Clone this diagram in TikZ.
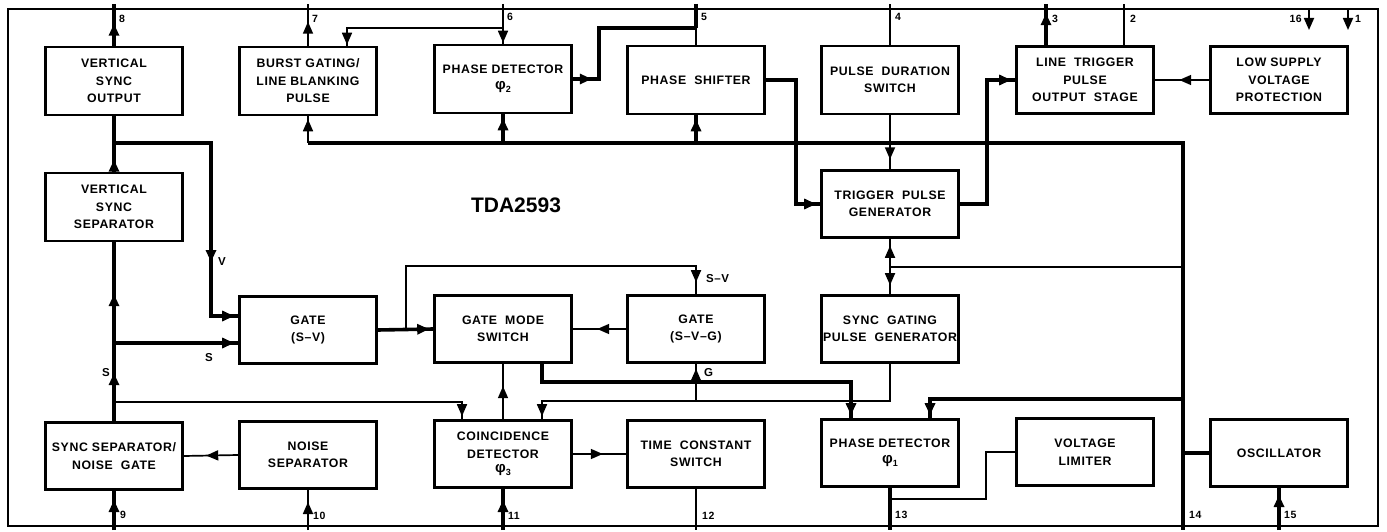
\documentclass[tikz,border=0pt]{standalone}
\usepackage{fontspec}
\setmainfont{Liberation Sans}
\newfontfamily\lblfont{Liberation Sans}[LetterSpace=5]
\usetikzlibrary{arrows.meta,decorations.markings}
\newcommand{\phisub}[1]{{\fontsize{15}{15}\selectfont φ}\raisebox{-3pt}{\fontsize{9}{9}\selectfont #1}}
\tikzset{
  blk/.style={draw, line width=2.6pt, minimum width=137pt, minimum height=67pt, align=center, inner sep=1pt,
    font=\lblfont\bfseries\fontsize{12.3}{17.5}\selectfont},
  thk/.style={line width=3.6pt},
  thn/.style={line width=1.7pt},
  tipend/.style={-{Triangle[length=12pt,width=10pt]}},
  arrat/.style={postaction={decorate},decoration={markings,mark=at position #1 with {\arrow{Triangle[length=12pt,width=10pt]}}}},
  arrtwo/.style 2 args={postaction={decorate},decoration={markings,
     mark=at position #1 with {\arrow{Triangle[length=12pt,width=10pt]}},
     mark=at position #2 with {\arrow{Triangle[length=12pt,width=10pt]}}}},
  pinlbl/.style={font=\lblfont\bfseries\fontsize{10.5}{12}\selectfont, inner sep=0pt, anchor=west},
  sig/.style={font=\lblfont\bfseries\fontsize{11.5}{12}\selectfont, inner sep=0pt, anchor=west},
}
\begin{document}
\begin{tikzpicture}[x=1pt,y=-1pt]
\useasboundingbox (0,0) rectangle (1387,532);
% frame
\draw[line width=2.4pt] (8,9) rectangle (1378,526);
\coordinate (pt) at (0,4);
\coordinate (pb) at (0,530);
% title
\node[font=\bfseries\fontsize{21}{21}\selectfont] (title) at (516,205) {TDA2593};
% blocks
\node[blk, minimum height=68pt] (vso) at (114,81) {VERTICAL\\SYNC\\OUTPUT};
\node[blk, minimum height=68pt] (bg) at (308,81) {BURST GATING/\\LINE BLANKING\\PULSE};
\node[blk, minimum height=68pt] (pd2) at (503,79) {PHASE DETECTOR\\[-2pt]\phisub{2}};
\node[blk, minimum height=68pt] (ps) at (696,80) {PHASE \ SHIFTER};
\node[blk, minimum height=68pt] (pds) at (890,80) {PULSE \ DURATION\\SWITCH};
\node[blk] (lt) at (1085,80) {LINE \ TRIGGER\\PULSE\\OUTPUT \ STAGE};
\node[blk] (ls) at (1279,80) {LOW SUPPLY\\VOLTAGE\\PROTECTION};
\node[blk, minimum height=68pt] (vss) at (114,207) {VERTICAL\\SYNC\\SEPARATOR};
\node[blk] (tpg) at (890,204) {TRIGGER \ PULSE\\GENERATOR};
\node[blk] (gsv) at (308,330) {GATE\\(S–V)};
\node[blk] (gms) at (503,329) {GATE \ MODE\\SWITCH};
\node[blk] (gsvg) at (696,329) {GATE\\(S–V–G)};
\node[blk] (sgp) at (890,329) {SYNC \ GATING\\PULSE \ GENERATOR};
\node[blk] (ssn) at (114,456) {SYNC SEPARATOR/\\NOISE \ GATE};
\node[blk] (ns) at (308,455) {NOISE\\SEPARATOR};
\node[blk] (cd) at (503,454) {COINCIDENCE\\DETECTOR\\[-3pt]\phisub{3}};
\node[blk] (tcs) at (696,454) {TIME \ CONSTANT\\SWITCH};
\node[blk] (pd1) at (890,453) {PHASE DETECTOR\\[-2pt]\phisub{1}};
\node[blk] (vl) at (1085,452) {VOLTAGE\\LIMITER};
\node[blk] (osc) at (1279,453) {OSCILLATOR};
% junction coordinates
\coordinate (busR) at (1183,143);
\coordinate (p16) at (1309,9);
\coordinate (p1) at (1348,9);
% ---- top pins
\draw[thk, arrat=22pt] (vso.north) -- (vso.north |- pt);
\node[pinlbl] (l8) at (119,19) {8};
\draw[thn, arrat=24pt] (bg.north) -- (bg.north |- pt);
\node[pinlbl] (l7) at (312,19) {7};
\draw[thn, arrat=-1pt] (pd2.north |- pt) -- (pd2.north);
\node[pinlbl] (l6) at (507,17) {6};
\draw[thn, arrat=-1pt] (pd2.north |- 0,28) -| ([xshift=39pt]bg.north);
\draw[thk] (ps.north |- pt) -- (ps.north |- 0,28);
\draw[thn] (ps.north |- 0,28) -- (ps.north);
\node[pinlbl] (l5) at (701,17) {5};
\draw[thk, arrat=19pt] (pd2.east) -| (599,28) -- (ps.north |- 0,28);
\draw[thn] (pds.north) -- (pds.north |- pt);
\node[pinlbl] (l4) at (895,17) {4};
\draw[thk, arrat=32pt] ([xshift=-39pt]lt.north) -- ([xshift=-39pt]lt.north |- pt);
\node[pinlbl] (l3) at (1052,19) {3};
\draw[thn] ([xshift=39pt]lt.north) -- ([xshift=39pt]lt.north |- pt);
\node[pinlbl] (l2) at (1130,19) {2};
\draw[thn, tipend] (p16) -- ++(0,21);
\node[pinlbl, anchor=east] (l16) at (1302,19) {16};
\draw[thn, tipend] (p1) -- ++(0,21);
\node[pinlbl] (l1) at (1355,19) {1};
% ---- bottom pins
\draw[thk, arrat=30pt] (ssn.south |- pb) -- (ssn.south);
\node[pinlbl] (l9) at (120,515) {9};
\draw[thn, arrat=28pt] (ns.south |- pb) -- (ns.south);
\node[pinlbl] (l10) at (313,516) {10};
\draw[thk, arrat=30pt] (cd.south |- pb) -- (cd.south);
\node[pinlbl] (l11) at (508,516) {11};
\draw[thn] (tcs.south) -- (tcs.south |- pb);
\node[pinlbl] (l12) at (702,516) {12};
\draw[thk] (pd1.south) -- (pd1.south |- pb);
\node[pinlbl] (l13) at (895,515) {13};
\node[pinlbl] (l14) at (1189,515) {14};
\draw[thk, arrat=35pt] (osc.south |- pb) -- (osc.south);
\node[pinlbl] (l15) at (1284,515) {15};
% ---- bus
\draw[thk] (bg.south |- busR) -- (busR) -- (busR |- pb);
\draw[thn, arrat=-3pt] (bg.south |- busR) -- (bg.south);
\draw[thk, arrat=-4pt] (pd2.south |- busR) -- (pd2.south);
\draw[thk, arrat=-4pt] (ps.south |- busR) -- (ps.south);
% pulse duration -> trigger
\draw[thn, arrat=44pt] (pds.south) -- (tpg.north);
% phase shifter -> trigger
\draw[thk, arrat=-4pt] (ps.east) -- ++(30,0) |- (tpg.west);
% trigger -> line trigger
\draw[thk, arrat=-4pt] (tpg.east) -- ++(27,0) |- (lt.west);
% low supply -> line trigger
\draw[thn, arrat=30pt] (ls.west) -- (lt.east);
% trigger <-> sync gating
\coordinate (j267) at (890,267);
\draw[thn, arrat=-7pt] (j267) -- (tpg.south);
\draw[thn, arrat=-9pt] (j267) -- (sgp.north);
\draw[thn] (j267) -- (busR |- j267);
% bus to pd1 and oscillator
\draw[thk, arrat=-3pt] (busR |- 0,399) -| ([xshift=40pt]pd1.north);
\draw[thk] (busR |- osc.west) -- (osc.west);
% pd1 -> voltage limiter
\draw[thn] (pd1.south |- 0,499) -- (986,499) |- (vl.west);
% gate mode switch -> pd1
\draw[thk, arrat=-3pt] ([xshift=39pt]gms.south) -- ++(0,18) -| ([xshift=-39pt]pd1.north);
% sync gating -> coincidence
\draw[thn, arrat=-3pt] (sgp.south) -- ++(0,37) -| ([xshift=39pt]cd.north);
% G
\draw[thn, arrat=-5pt] (gsvg.south |- 0,400) -- (gsvg.south);
\node[sig] (lG) at (704,373) {G};
% coincidence -> gate mode switch
\draw[thn, arrat=33pt] (cd.north) -- (gms.south);
% coincidence -> time constant
\draw[thn, arrat=30pt] (cd.east) -- (tcs.west);
% S line
\draw[thk, arrtwo={48pt}{127pt}] (ssn.north) -- (vss.south);
\node[sig, anchor=east] (lS1) at (110,373) {S};
\draw[thk, arrat=-4pt] (ssn.north |- 0,343) -- (gsv.west |- 0,343);
\node[sig] (lS2) at (205,358) {S};
% vss -> vso
\draw[thk, arrat=12pt] (vss.north) -- (vso.south);
% V line
\draw[thk, arrtwo={216pt}{-4pt}] (vso.south |- 0,143) -| (211,316) -- (gsv.west |- 0,316);
\node[sig] (lV) at (218,262) {V};
% coincidence left input
\draw[thn, arrat=-3pt] (ssn.north |- 0,402) -| ([xshift=-41pt]cd.north);
% noise separator -> sync separator
\draw[thn, arrat=32pt] (ns.west) -- (ssn.east);
% gate S-V -> gate mode switch
\draw[thk, arrat=-4pt] (gsv.east) -- (gms.west);
% S-V
\draw[thn, arrat=-12pt] ([xshift=28pt]gsv.east) |- ([yshift=28pt]gsvg.north) -- (gsvg.north);
\node[sig] (lSV) at (706,279) {S–V};
% gate S-V-G -> gate mode switch
\draw[thn, arrat=29pt] (gsvg.west) -- (gms.east);
\end{tikzpicture}
\end{document}
